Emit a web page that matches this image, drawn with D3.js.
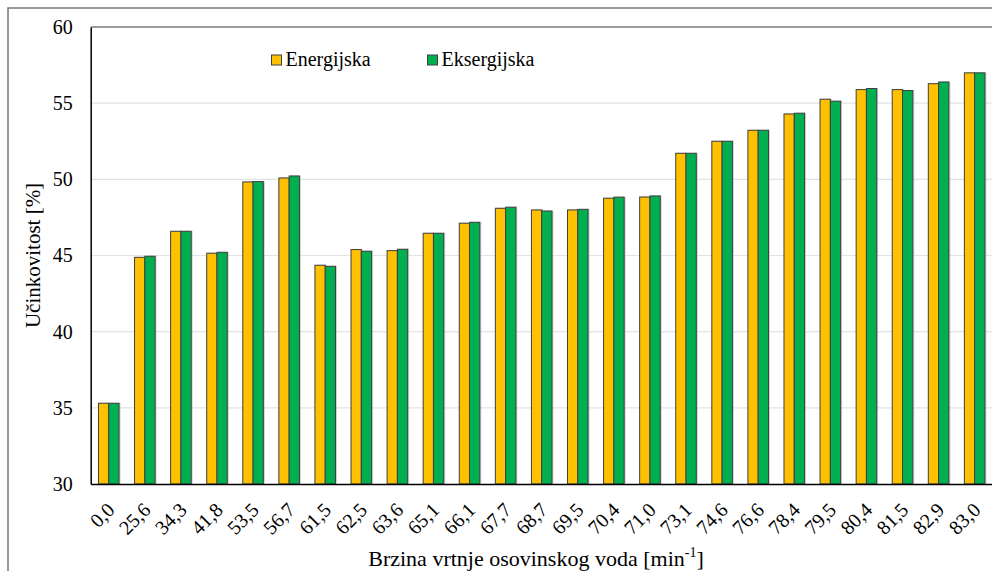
<!DOCTYPE html>
<html>
<head>
<meta charset="utf-8">
<script src="https://cdn.jsdelivr.net/npm/d3@7"></script>
<style>
  body { margin: 0; background: #fff; }
  svg { display: block; }
</style>
</head>
<body>
<div id="chart"></div>
<script>
// categories (shaft rotation speed, min-1)
const categories = ["0,0", "25,6", "34,3", "41,8", "53,5", "56,7", "61,5", "62,5", "63,6", "65,1",
  "66,1", "67,7", "68,7", "69,5", "70,4", "71,0", "73,1", "74,6", "76,6", "78,4",
  "79,5", "80,4", "81,5", "82,9", "83,0"];

// series values (%)
const energijska = [35.3, 44.88, 46.59, 45.15, 49.83, 50.09, 44.36, 45.39, 45.32, 46.46,
  47.12, 48.10, 47.99, 47.99, 48.76, 48.84, 51.71, 52.50, 53.22, 54.29,
  55.26, 55.89, 55.89, 56.28, 56.99];
const eksergijska = [35.3, 44.95, 46.59, 45.21, 49.85, 50.22, 44.29, 45.28, 45.41, 46.46,
  47.18, 48.17, 47.92, 48.03, 48.83, 48.91, 51.71, 52.50, 53.22, 54.34,
  55.13, 55.96, 55.83, 56.39, 56.99];

const seriesNames = ["Energijska", "Eksergijska"];
const seriesColors = ["#FFC000", "#00B050"];
const yTicks = [30, 35, 40, 45, 50, 55, 60];

const FONT = "Liberation Serif";
const W = 992, H = 571;
const margin = { top: 27, left: 90.7 };
const plotW = 25 * 36.08;
const plotH = 484 - margin.top;

const svg = d3.select("#chart").append("svg")
  .attr("width", W)
  .attr("height", H)
  .attr("font-family", FONT);

// outer chart border
svg.append("rect")
  .attr("x", 8).attr("y", 8)
  .attr("width", 1000).attr("height", 600)
  .attr("fill", "none")
  .attr("stroke", "#767676")
  .attr("stroke-width", 1.5);

const g = svg.append("g")
  .attr("transform", "translate(" + margin.left + "," + margin.top + ")");

const x = d3.scaleBand()
  .domain(categories)
  .range([0, plotW])
  .paddingInner(0.43)
  .paddingOuter(0.215);

const xSub = d3.scaleBand()
  .domain(seriesNames)
  .range([0, x.bandwidth()]);

const y = d3.scaleLinear()
  .domain([30, 60])
  .range([plotH, 0]);

// gridlines
g.append("g")
  .selectAll("line")
  .data(yTicks.filter(d => d > 30 && d < 60))
  .join("line")
  .attr("x1", 0).attr("x2", plotW)
  .attr("y1", d => y(d)).attr("y2", d => y(d))
  .attr("stroke", "#e3e3e3")
  .attr("stroke-width", 1.2);

// top border of plot area
g.append("line")
  .attr("x1", 0).attr("x2", plotW)
  .attr("y1", 0).attr("y2", 0)
  .attr("stroke", "#7a7a7a")
  .attr("stroke-width", 1.5);

// build table for bars
const table = categories.map((c, i) => ({
  cat: c,
  vals: [
    { name: seriesNames[0], value: energijska[i] },
    { name: seriesNames[1], value: eksergijska[i] }
  ]
}));

const color = d3.scaleOrdinal().domain(seriesNames).range(seriesColors);

const groups = g.append("g")
  .selectAll("g")
  .data(table)
  .join("g")
  .attr("transform", d => "translate(" + x(d.cat) + ",0)");

// soft shadow
groups.selectAll("rect.shadow")
  .data(d => d.vals)
  .join("rect")
  .attr("class", "shadow")
  .attr("x", d => xSub(d.name) + 1.5)
  .attr("y", d => y(d.value) - 0.5)
  .attr("width", xSub.bandwidth())
  .attr("height", d => y(30) - y(d.value))
  .attr("fill", "#b0b0b0")
  .attr("opacity", 0.6);

groups.selectAll("rect.bar")
  .data(d => d.vals)
  .join("rect")
  .attr("class", "bar")
  .attr("x", d => xSub(d.name))
  .attr("y", d => y(d.value))
  .attr("width", xSub.bandwidth())
  .attr("height", d => y(30) - y(d.value))
  .attr("fill", d => color(d.name))
  .attr("stroke", "#3f3f3f")
  .attr("stroke-width", 1);

// y axis
const yAxis = g.append("g")
  .call(d3.axisLeft(y).tickValues(yTicks).tickSize(0).tickPadding(18))
  .attr("font-family", FONT)
  .attr("font-size", 20);
yAxis.select(".domain").attr("stroke", "#000").attr("stroke-width", 1.5);
yAxis.selectAll("text").attr("fill", "#000");

// x axis
const xAxis = g.append("g")
  .attr("transform", "translate(0," + plotH + ")")
  .call(d3.axisBottom(x).tickSize(0))
  .attr("font-family", FONT)
  .attr("font-size", 20);
xAxis.select(".domain").attr("stroke", "#000").attr("stroke-width", 1.5);
xAxis.selectAll("text")
  .attr("fill", "#000")
  .attr("text-anchor", "end")
  .attr("dy", "0.35em")
  .attr("transform", "translate(0,20) rotate(-45)");

// axis titles
svg.append("text")
  .attr("transform", "translate(40," + (margin.top + plotH / 2) + ") rotate(-90)")
  .attr("text-anchor", "middle")
  .attr("font-family", FONT)
  .attr("font-size", 21)
  .text("Učinkovitost [%]");

const xt = svg.append("text")
  .attr("x", 536)
  .attr("y", 566)
  .attr("text-anchor", "middle")
  .attr("font-family", FONT)
  .attr("font-size", 22);
xt.append("tspan").text("Brzina vrtnje osovinskog voda [min");
xt.append("tspan").attr("font-size", 14).attr("dy", -9).text("-1");
xt.append("tspan").attr("dy", 9).text("]");

// legend
const legendX = [271.5, 427.5];
const legend = svg.append("g")
  .selectAll("g")
  .data(seriesNames)
  .join("g")
  .attr("transform", (d, i) => "translate(" + legendX[i] + ",55)");
legend.append("rect")
  .attr("width", 10).attr("height", 10)
  .attr("fill", d => color(d))
  .attr("stroke", "#3f3f3f")
  .attr("stroke-width", 1);
legend.append("text")
  .attr("x", 14)
  .attr("y", 11)
  .attr("font-family", FONT)
  .attr("font-size", 20)
  .text(d => d);
</script>
</body>
</html>
